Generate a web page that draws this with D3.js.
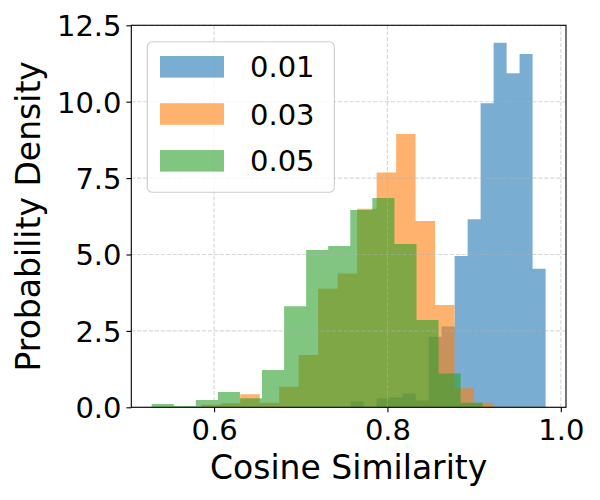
<!DOCTYPE html>
<html>
<head>
<meta charset="utf-8">
<script src="https://cdn.jsdelivr.net/npm/d3@7"></script>
<style>
  html, body { margin: 0; padding: 0; background: #fff; }
  svg { display: block; font-family: "DejaVu Sans", sans-serif; }
</style>
</head>
<body>
<svg id="chart" width="600" height="500"></svg>
<script>
// ---- data ----
const seriesNames = ["0.01", "0.03", "0.05"];
const seriesColors = ["#1f77b4", "#ff7f0e", "#2ca02c"];
// bin start and bin width for each series (15 bins each)
const binStarts = [0.7576, 0.5852, 0.5280];
const binWidths = [0.01499, 0.02248, 0.02546];
const density001 = [0.2, 0.0, 0.3, 0.33, 0.45, 0.22, 2.31, 2.64, 4.95, 6.15, 9.95, 11.93, 10.93, 11.56, 4.53];
const density003 = [0.08, 0.13, 0.43, 0.15, 0.67, 1.71, 3.88, 4.38, 6.5, 7.68, 8.94, 6.1, 3.35, 0.62, 0.15];
const density005 = [0.11, 0.04, 0.24, 0.5, 0.3, 1.22, 3.31, 5.15, 5.28, 6.46, 6.85, 5.34, 2.86, 1.11, 0.15];
const densities = [density001, density003, density005];
const xTicks = [0.6, 0.8, 1.0];
const yTicks = [0, 2.5, 5.0, 7.5, 10.0, 12.5];
const xDomain = [0.5045, 1.006];
const yDomain = [0, 12.5];

// ---- layout ----
const L = 131.3, R = 566, T = 25.3, B = 407.3;
const svg = d3.select("#chart");
const x = d3.scaleLinear().domain(xDomain).range([L, R]);
const y = d3.scaleLinear().domain(yDomain).range([B, T]);

// bars: each histogram drawn as one stepped area (no seams between bins)
const area = d3.area()
  .x(d => x(d.x))
  .y0(y(0))
  .y1(d => y(d.v))
  .curve(d3.curveStepAfter);
densities.forEach((vals, si) => {
  const pts = vals.map((v, i) => ({ x: binStarts[si] + i * binWidths[si], v: v }));
  pts.push({ x: binStarts[si] + vals.length * binWidths[si], v: vals[vals.length - 1] });
  svg.append("path").datum(pts)
    .attr("d", area)
    .attr("fill", seriesColors[si])
    .attr("fill-opacity", 0.6);
});

// grid (above bars, as matplotlib)
const grid = svg.append("g");
grid.selectAll("line.gx").data(xTicks).join("line")
  .attr("x1", d => x(d)).attr("x2", d => x(d))
  .attr("y1", T).attr("y2", B)
  .attr("stroke", "#b0b0b0").attr("stroke-opacity", 0.5)
  .attr("stroke-width", 1.1).attr("stroke-dasharray", "4.1,1.8");
grid.selectAll("line.gy").data(yTicks).join("line")
  .attr("x1", L).attr("x2", R)
  .attr("y1", d => y(d)).attr("y2", d => y(d))
  .attr("stroke", "#b0b0b0").attr("stroke-opacity", 0.5)
  .attr("stroke-width", 1.1).attr("stroke-dasharray", "4.1,1.8");

// axes
const xAxis = svg.append("g").attr("transform", `translate(0,${B})`)
  .call(d3.axisBottom(x).tickValues(xTicks).tickFormat(d3.format(".1f"))
    .tickSize(4.9).tickPadding(4.9).tickSizeOuter(0));
const yAxis = svg.append("g").attr("transform", `translate(${L},0)`)
  .call(d3.axisLeft(y).tickValues(yTicks).tickFormat(d3.format(".1f"))
    .tickSize(4.9).tickPadding(4.9).tickSizeOuter(0));
[xAxis, yAxis].forEach(g => {
  g.select(".domain").remove();
  g.selectAll(".tick line").attr("stroke", "#000").attr("stroke-width", 1.1);
  g.selectAll(".tick text").attr("fill", "#000")
    .style("font-family", "DejaVu Sans").style("font-size", "29px");
});
xAxis.selectAll(".tick text").attr("dy", null).attr("y", 33);
yAxis.selectAll(".tick text").attr("dy", "0.36em");

// spines
svg.append("rect").attr("x", L).attr("y", T).attr("width", R - L).attr("height", B - T)
  .attr("fill", "none").attr("stroke", "#000").attr("stroke-width", 1.1);

// axis labels
svg.append("text").attr("x", (L + R) / 2).attr("y", 478.5)
  .attr("text-anchor", "middle").style("font-size", "33px").attr("fill", "#000")
  .text("Cosine Similarity");
svg.append("text").attr("transform", `translate(40,${(T + B) / 2}) rotate(-90)`)
  .attr("text-anchor", "middle").style("font-size", "33px").attr("fill", "#000")
  .text("Probability Density");

// legend
const lg = svg.append("g");
lg.append("rect").attr("x", 147.3).attr("y", 41.7).attr("width", 187).attr("height", 150.6)
  .attr("rx", 5).attr("ry", 5)
  .attr("fill", "#fff").attr("fill-opacity", 0.8)
  .attr("stroke", "#cccccc").attr("stroke-width", 1.1);
const rowY = [66.8, 114, 160.8];
seriesNames.forEach((name, i) => {
  lg.append("rect").attr("x", 160).attr("y", rowY[i] - 10.8).attr("width", 64).attr("height", 21.6)
    .attr("fill", seriesColors[i]).attr("fill-opacity", 0.6);
  lg.append("text").attr("x", 250).attr("y", rowY[i] + 10.6)
    .style("font-size", "29px").attr("fill", "#000").text(name);
});
</script>
</body>
</html>
